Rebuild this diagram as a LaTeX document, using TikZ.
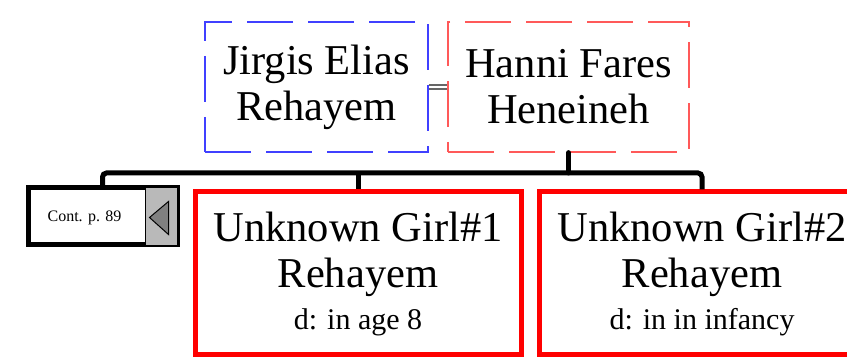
\documentclass[tikz,border=0pt]{standalone}
\usepackage{fontspec}
\setmainfont{Liberation Serif}
\usetikzlibrary{calc}
\begin{document}
\begin{tikzpicture}[x=1pt,y=-1pt,
    person/.style={rectangle,align=center,inner sep=0pt,
      font=\fontsize{42.5}{46}\selectfont},
    spouse/.style={person,line width=1.3pt,dash pattern=on 46pt off 15pt},
    child/.style={person,draw=red,line width=5pt,minimum width=326pt,minimum height=163pt},
    descent/.style={line width=5pt,rounded corners=4pt},
    marriage/.style={draw=gray!80!black,double,double distance=2.5pt,line width=1.3pt}]
      \useasboundingbox (0,0) rectangle (847,358);
      \node[spouse,draw=blue!75,minimum width=223pt,minimum height=130pt] (J) at (316.5,87){Jirgis Elias\\Rehayem};
      \node[spouse,draw=red!65,minimum width=241pt,minimum height=130pt] (H) at (568.5,87){Hanni Fares\\Heneineh};

      \node[child] (G1) at (358,273.5){Unknown Girl\#1\\Rehayem\\[-4pt]{\fontsize{30}{36}\selectfont d: in age 8}};
      \node[child] (G2) at (702,273.5){Unknown Girl\#2\\Rehayem\\[-4pt]{\fontsize{30}{36}\selectfont d: in in infancy}};

      \node[rectangle,draw,line width=5pt,minimum width=149pt,minimum height=57pt] (C) at (102.5,216.5){};
      \fill[gray!55] ($(C.north east)+(-34,2.5)$) rectangle ($(C.south east)+(-2.5,-2.5)$);
      \draw[line width=0.6pt] ($(C.north east)+(-34,2.5)$) -- ($(C.south east)+(-34,-2.5)$);
      \filldraw[fill=gray,draw=black,line width=1pt] ($(C.east)+(-30,1)$) -- ($(C.east)+(-11,-15)$) -- ($(C.east)+(-11,18)$) -- cycle;
      \node[font=\fontsize{16}{18}\selectfont] (Ct) at ($(C.center)+(-18,1)$){Cont. p. 89};

      \coordinate (bar) at (0,173);
      \draw[marriage] (J.east) -- (H.west);
      \draw[descent,line cap=round] (H.south) -- (H.south |- bar);
      \draw[descent] (C.north) -- (C.north |- bar) -- (G2.north |- bar) -- (G2.north);
      \draw[descent] (G1.north |- bar) -- (G1.north);
    \end{tikzpicture}
\end{document}
